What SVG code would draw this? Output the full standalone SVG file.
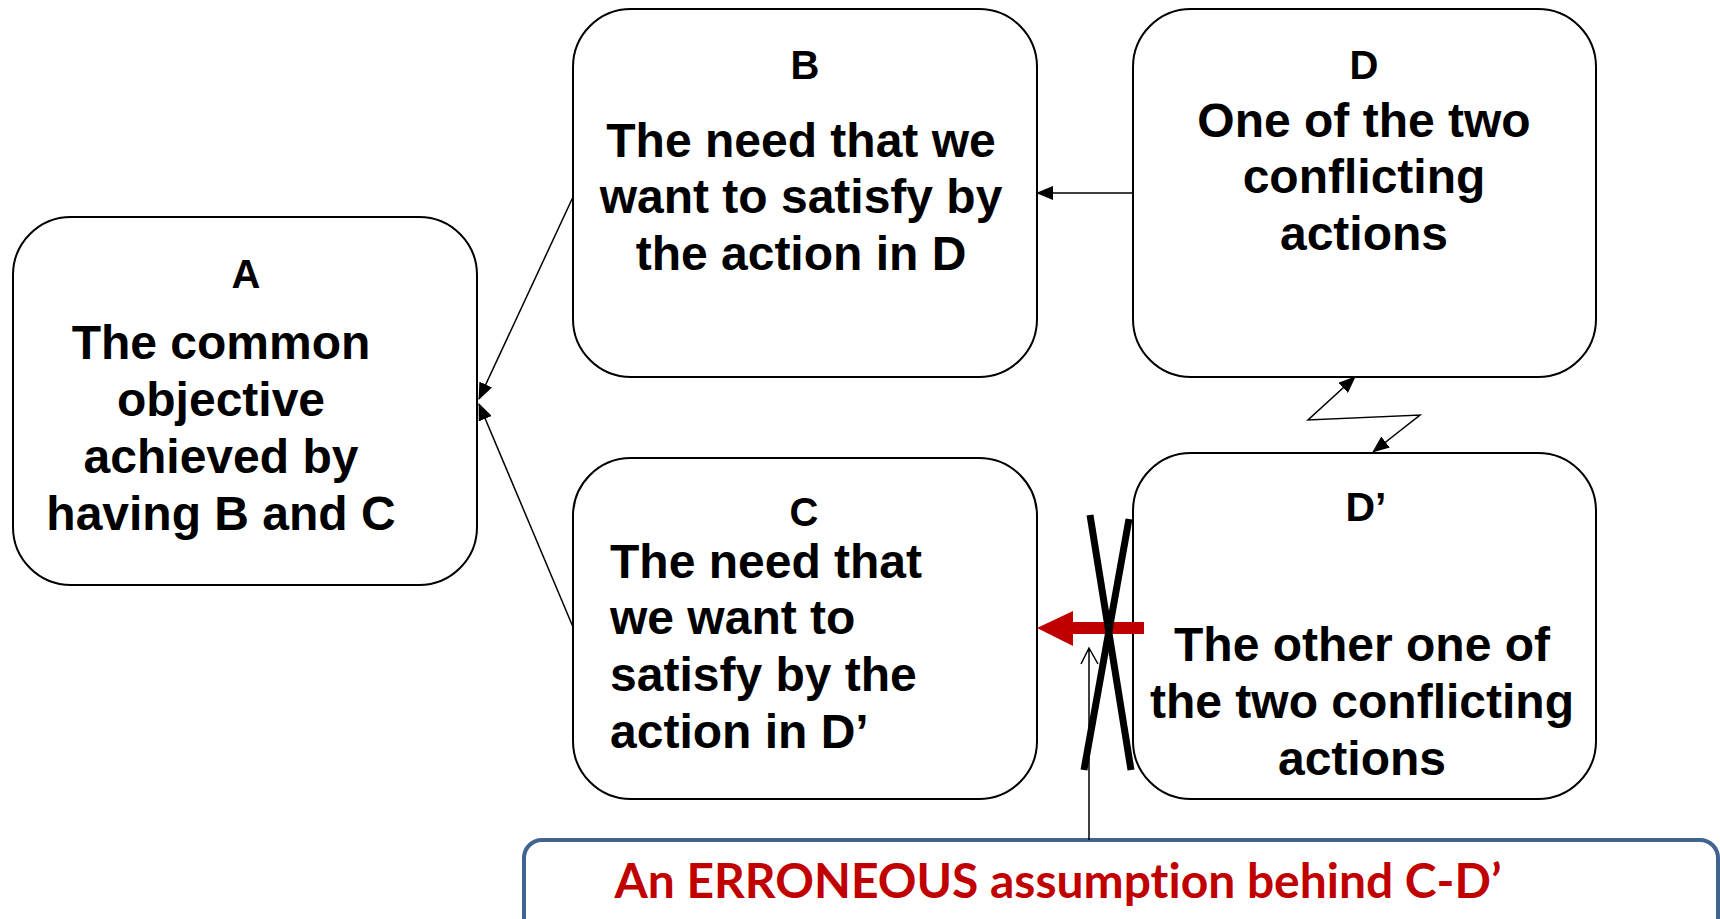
<svg xmlns="http://www.w3.org/2000/svg" width="1720" height="919" viewBox="0 0 1720 919">
<style>
.box{fill:#fff;stroke:#000;stroke-width:2}
.t{font-family:"Liberation Sans",Arial,sans-serif;font-weight:bold;fill:#000}
.lbl{font-size:40px;text-anchor:middle}
.body{font-size:48px}
.mid{text-anchor:middle}
.con{fill:none;stroke:#000;stroke-width:1.5}
</style>
<defs>
<marker id="arr" markerUnits="userSpaceOnUse" markerWidth="18" markerHeight="14" refX="16" refY="7" orient="auto-start-reverse">
<path d="M0,0 L17,7 L0,14 z" fill="#000"/>
</marker>
</defs>
<rect width="1720" height="919" fill="#fff"/>
<g id="nodeA">
<rect class="box" x="13" y="217" width="464" height="368" rx="58" ry="58"/>
<text class="t lbl" x="246" y="288">A</text>
<text class="t body mid" x="221" y="359">The common</text>
<text class="t body mid" x="221" y="416">objective</text>
<text class="t body mid" x="221" y="473">achieved by</text>
<text class="t body mid" x="221" y="530">having B and C</text>
</g>
<g id="nodeB">
<rect class="box" x="573" y="9" width="464" height="368" rx="58" ry="58"/>
<text class="t lbl" x="805" y="79">B</text>
<text class="t body mid" x="801" y="157">The need that we</text>
<text class="t body mid" x="801" y="213">want to satisfy by</text>
<text class="t body mid" x="801" y="270">the action in D</text>
</g>
<g id="nodeD">
<rect class="box" x="1133" y="9" width="463" height="368" rx="58" ry="58"/>
<text class="t lbl" x="1364" y="79">D</text>
<text class="t body mid" x="1364" y="137">One of the two</text>
<text class="t body mid" x="1364" y="193">conflicting</text>
<text class="t body mid" x="1364" y="250">actions</text>
</g>
<g id="nodeC">
<rect class="box" x="573" y="458" width="464" height="341" rx="58" ry="58"/>
<text class="t lbl" x="804" y="526">C</text>
<text class="t body" x="610" y="578">The need that</text>
<text class="t body" x="610" y="634">we want to</text>
<text class="t body" x="610" y="691">satisfy by the</text>
<text class="t body" x="610" y="748">action in D’</text>
</g>
<g id="nodeDp">
<rect class="box" x="1133" y="453" width="463" height="346" rx="58" ry="58"/>
<text class="t lbl" x="1366" y="521" style="font-size:41px">D’</text>
<text class="t body mid" x="1362" y="661">The other one of</text>
<text class="t body mid" x="1362" y="718">the two conflicting</text>
<text class="t body mid" x="1362" y="775">actions</text>
</g>
<g id="assumption">
<rect x="524" y="840" width="1194" height="130" rx="18" ry="18" fill="#fff" stroke="#41638f" stroke-width="4"/>
<text x="1058" y="898" text-anchor="middle" textLength="887" lengthAdjust="spacingAndGlyphs" style="font-family:Lato,'Open Sans',sans-serif;font-weight:bold;font-size:48px;fill:#c00000;font-variant-ligatures:none">An ERRONEOUS assumption behind C-D’</text>
</g>
<g id="connectors">
<path class="con" d="M573,197 L479,399" marker-end="url(#arr)"/>
<path class="con" d="M573,627 L479,404" marker-end="url(#arr)"/>
<path class="con" d="M1133,193 L1037,193" marker-end="url(#arr)"/>
<path class="con" d="M1355,377 L1308,420 L1420,415 L1373,452" marker-start="url(#arr)" marker-end="url(#arr)"/>
<polygon points="1144,622 1073,622 1073,611 1037,628 1073,646 1073,634 1144,634" fill="#c00000"/>
<path class="con" d="M1089,840 L1089,648 M1081,664 L1089,648 L1098,664"/>
<line x1="1090" y1="515" x2="1131" y2="770" stroke="#000" stroke-width="7"/>
<line x1="1129" y1="519" x2="1084" y2="770" stroke="#000" stroke-width="7"/>
</g>
</svg>
